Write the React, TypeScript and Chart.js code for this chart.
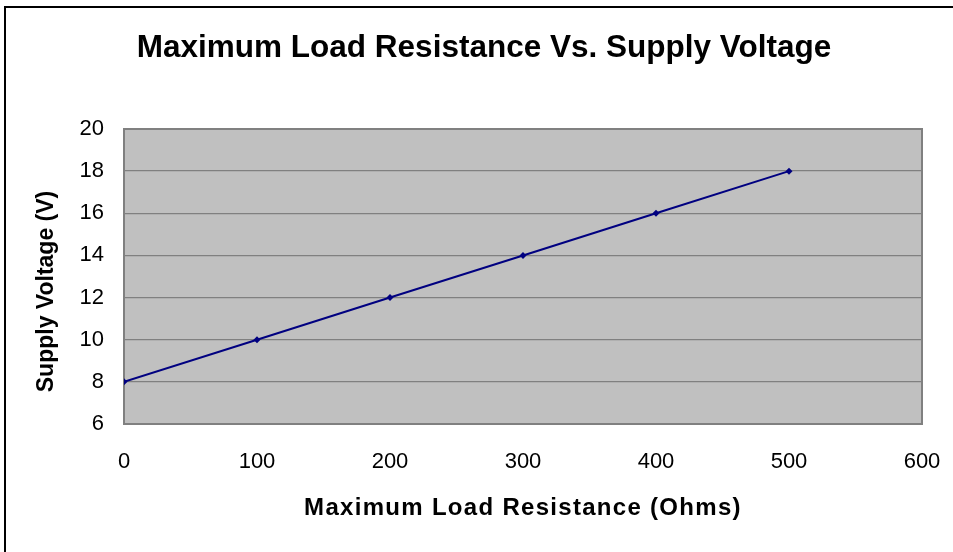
import React, { useEffect, useRef } from "react";
import { Chart, registerables } from "chart.js";

Chart.register(...registerables);

const chartTitle = "Maximum Load Resistance Vs. Supply Voltage";
const xAxisTitle = "Maximum Load Resistance (Ohms)";
const yAxisTitle = "Supply Voltage (V)";
const resistance = [0, 100, 200, 300, 400, 500];
const voltage = [8, 10, 12, 14, 16, 18];
const xTicks = { min: 0, max: 600, step: 100 };
const yTicks = { min: 6, max: 20, step: 2 };

const FONT = "'Liberation Sans', Arial, sans-serif";

function patchTitle(scale: any, spacing: string, dx: number, dy: number) {
  if (!scale || scale.__patched) return;
  const orig = scale.drawTitle;
  scale.drawTitle = function (...args: any[]) {
    const c = this.ctx;
    c.save();
    (c as any).letterSpacing = spacing;
    c.translate(dx, dy);
    orig.apply(this, args);
    c.restore();
  };
  scale.__patched = true;
}

const framePlugin = {
  id: "frame",
  beforeDraw(chart: any) {
    const { ctx, chartArea } = chart;
    ctx.save();
    ctx.fillStyle = "#ffffff";
    ctx.fillRect(0, 0, chart.width, chart.height);
    // outer border (left & top visible)
    ctx.strokeStyle = "#000000";
    ctx.lineWidth = 2;
    ctx.beginPath();
    ctx.moveTo(5, chart.height);
    ctx.lineTo(5, 7);
    ctx.lineTo(chart.width, 7);
    ctx.stroke();
    // plot background
    ctx.fillStyle = "#C0C0C0";
    ctx.fillRect(chartArea.left, chartArea.top, chartArea.right - chartArea.left, chartArea.bottom - chartArea.top);
    // title
    ctx.fillStyle = "#000000";
    ctx.font = `bold 31.5px ${FONT}`;
    ctx.textAlign = "center";
    ctx.textBaseline = "alphabetic";
    ctx.fillText(chartTitle, 484, 57);
    ctx.restore();
    patchTitle(chart.scales.x, "1.3px", 0, 0);
    patchTitle(chart.scales.y, "0px", 0, 15);
  },
  beforeDatasetsDraw(chart: any) {
    const { ctx, chartArea } = chart;
    ctx.save();
    ctx.strokeStyle = "#808080";
    ctx.lineWidth = 2;
    ctx.strokeRect(chartArea.left, chartArea.top, chartArea.right - chartArea.left, chartArea.bottom - chartArea.top);
    ctx.restore();
  },
};

export default function App() {
  const ref = useRef<HTMLCanvasElement>(null);
  useEffect(() => {
    if (!ref.current) return;
    const chart = new Chart(ref.current, {
      type: "line",
      data: {
        datasets: [
          {
            data: resistance.map((r, i) => ({ x: r, y: voltage[i] })),
            borderColor: "#000080",
            backgroundColor: "#000080",
            borderWidth: 2,
            pointStyle: "rectRot",
            pointRadius: 3.5,
            pointBorderWidth: 0,
            pointBackgroundColor: "#000080",
            tension: 0,
          },
        ],
      },
      options: {
        responsive: false,
        animation: false,
        layout: { padding: { top: 129, right: 31, left: 0, bottom: 0 } },
        plugins: { legend: { display: false }, title: { display: false }, tooltip: { enabled: false } },
        scales: {
          x: {
            type: "linear",
            min: xTicks.min,
            max: xTicks.max,
            afterFit: (s: any) => {
              s.height = 128;
              s.paddingLeft = 0;
              s.paddingRight = 0;
            },
            grid: { display: false, drawTicks: false },
            border: { display: false },
            ticks: {
              stepSize: xTicks.step,
              padding: 25,
              color: "#000",
              font: { family: FONT, size: 22 },
              maxRotation: 0,
            },
            title: {
              display: true,
              text: xAxisTitle,
              color: "#000",
              font: { family: FONT, size: 24, weight: "bold" },
              padding: { top: 0, bottom: 29 },
            },
          },
          y: {
            type: "linear",
            min: yTicks.min,
            max: yTicks.max,
            afterFit: (s: any) => {
              s.width = 124;
            },
            grid: { display: true, color: "#808080", lineWidth: 1.3, drawTicks: false },
            border: { display: false },
            ticks: {
              stepSize: yTicks.step,
              padding: 20,
              color: "#000",
              font: { family: FONT, size: 22 },
            },
            title: {
              display: true,
              text: yAxisTitle,
              color: "#000",
              font: { family: FONT, size: 23, weight: "bold" },
              padding: { top: 33, bottom: 0 },
            },
          },
        },
      },
      plugins: [framePlugin],
    });
    return () => chart.destroy();
  }, []);
  return (
    <div style={{ position: "absolute", left: 0, top: 0, width: 953, height: 552 }}>
      <canvas ref={ref} width={953} height={552} style={{ display: "block" }} />
    </div>
  );
}
